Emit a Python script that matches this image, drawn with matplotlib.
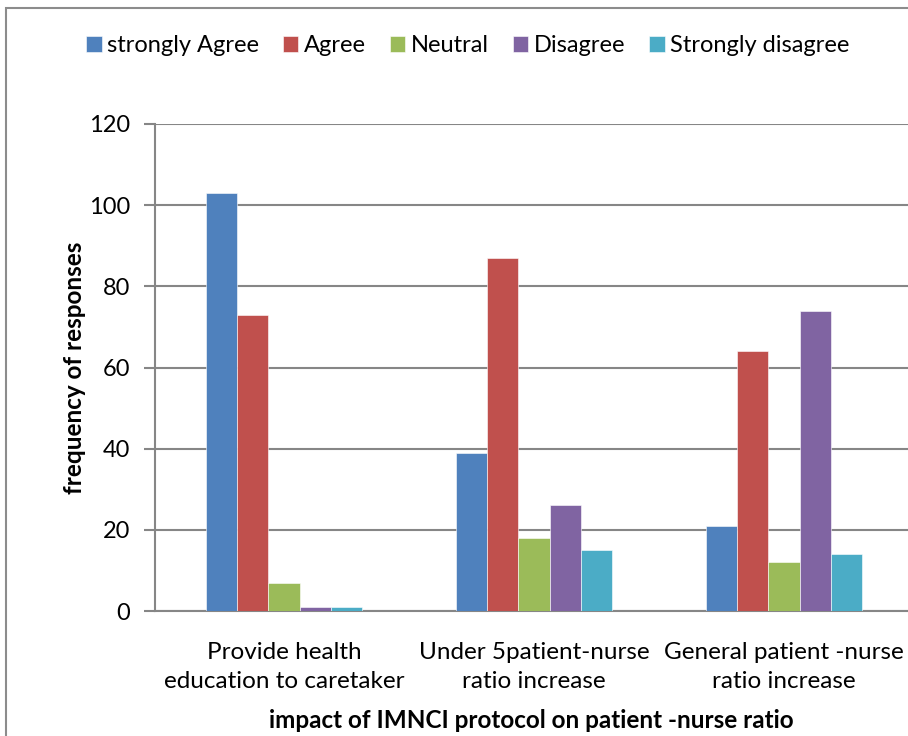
import matplotlib
matplotlib.use('agg')
import matplotlib.pyplot as plt
import numpy as np
from matplotlib.patches import Rectangle

plt.rcParams['font.family'] = ['Lato', 'DejaVu Sans']

categories = ['Provide health\neducation to caretaker',
              'Under 5patient-nurse\nratio increase',
              'General patient -nurse\nratio increase']
series = ['strongly Agree', 'Agree', 'Neutral', 'Disagree', 'Strongly disagree']
strongly_agree = [103, 39, 21]
agree = [73, 87, 64]
neutral = [7, 18, 12]
disagree = [1, 26, 74]
strongly_disagree = [1, 15, 14]
colors = ['#4F81BD', '#C0504D', '#9BBB59', '#8064A2', '#4BACC6']

values = [strongly_agree, agree, neutral, disagree, strongly_disagree]

fig = plt.figure(figsize=(9.08, 7.36), dpi=100)
ax = fig.add_axes([155 / 908, 125 / 736, 753 / 908, 487 / 736])

# chart frame
fig.patches.append(Rectangle((6 / 908, -0.1), 1.2, 1.1 - 8 / 736,
                             transform=fig.transFigure, fill=False,
                             edgecolor='#8c8c8c', linewidth=1.5))

x = np.arange(len(categories))
w = 0.125
for i, (name, vals) in enumerate(zip(series, values)):
    ax.bar(x + (i - 2) * w, vals, w, color=colors[i], label=name,
           edgecolor='white', linewidth=0.4, zorder=3)

ax.set_xlim(-0.516, 2.496)
ax.set_ylim(0, 120)
ax.set_yticks(range(0, 121, 20))
ax.grid(axis='y', color='#868686', linewidth=1.5, zorder=0)
ax.tick_params(axis='y', length=8, width=1.5, color='#868686', labelsize=17, pad=10)
ax.tick_params(axis='x', length=0, labelsize=17.5, pad=22)
ax.set_xticks(x)
ax.set_xticklabels(categories, linespacing=1.5)
for side in ['top', 'right']:
    ax.spines[side].set_visible(False)
for side in ['left', 'bottom']:
    ax.spines[side].set_color('#868686')
    ax.spines[side].set_linewidth(1.5)

ax.set_ylabel('frequency of responses', fontsize=17.5, fontweight='bold', labelpad=2)
ax.set_xlabel('impact of IMNCI protocol on patient -nurse ratio', fontsize=17.5,
              fontweight='bold', labelpad=12)

fig.legend(loc='center', bbox_to_anchor=(468 / 908, 1 - 46 / 736), ncol=5,
           frameon=False, fontsize=17, handlelength=0.65, handleheight=0.65,
           handletextpad=0.25, columnspacing=1.0)

plt.savefig('out.png', dpi=100)
